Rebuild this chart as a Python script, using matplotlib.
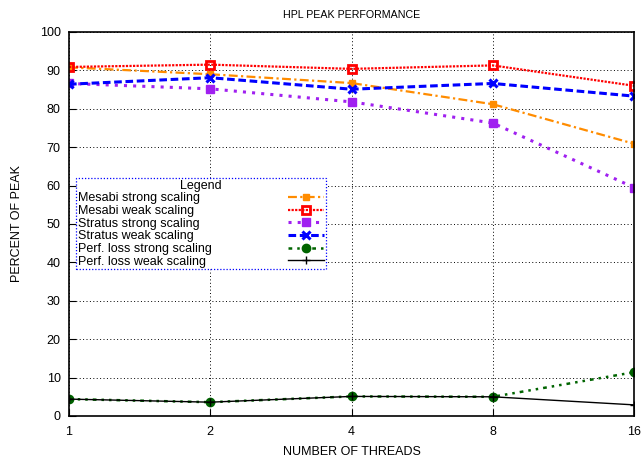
import matplotlib
matplotlib.use("Agg")
import matplotlib.pyplot as plt

threads = [1, 2, 4, 8, 16]
mesabi_strong = [90.8, 89.0, 86.7, 81.2, 70.9]
mesabi_weak = [90.9, 91.5, 90.4, 91.3, 86.0]
stratus_strong = [86.6, 85.2, 81.8, 76.3, 59.5]
stratus_weak = [86.4, 88.1, 85.1, 86.6, 83.3]
loss_strong = [4.4, 3.6, 5.1, 5.0, 11.4]
loss_weak = [4.4, 3.6, 5.1, 5.0, 2.9]

plt.rcParams['font.family'] = ['Liberation Sans', 'DejaVu Sans']
plt.rcParams['font.size'] = 9

fig = plt.figure(figsize=(6.42, 4.59), dpi=100)
ax = fig.add_axes([69 / 642, 43 / 459, 565 / 642, 384 / 459])

ax.plot(threads, mesabi_strong, color='darkorange', linestyle=(0, (4, 1.5, 1, 1.5)),
        lw=1.6, marker='s', ms=5, label='Mesabi strong scaling')
ax.plot(threads, mesabi_weak, color='red', linestyle=(0, (1, 0.6)), lw=1.6,
        marker='s', ms=6, mfc='none', mew=2, label='Mesabi weak scaling')
ax.plot(threads, stratus_strong, color='#a020f0', linestyle=(0, (1, 2)), lw=2.2,
        marker='s', ms=6, label='Stratus strong scaling')
ax.plot(threads, stratus_weak, color='blue', linestyle=(0, (2.5, 1.2)), lw=2.2,
        marker='x', ms=6, mew=2.2, label='Stratus weak scaling')
ax.plot(threads, loss_strong, color='darkgreen', linestyle=(0, (1.5, 2, 1, 2, 1, 2)), lw=1.8,
        marker='o', ms=6, label='Perf. loss strong scaling')
ax.plot(threads, loss_weak, color='black', linestyle='-', lw=1.0,
        marker='+', ms=6, label='Perf. loss weak scaling')

ax.set_xscale('log', base=2)
ax.set_xlim(1, 16)
ax.set_ylim(0, 100)
ax.set_xticks(threads)
ax.set_xticklabels([str(t) for t in threads])
ax.minorticks_off()
ax.set_yticks(range(0, 101, 10))
ax.tick_params(direction='in', length=5, width=0.8, labelsize=9)
ax.tick_params(axis='y', pad=6)
ax.tick_params(axis='x', pad=7)
ax.grid(True, color='black', linestyle=(0, (1, 2.5)), linewidth=0.7)
for s in ax.spines.values():
    s.set_linewidth(1.2)

ax.set_title('HPL PEAK PERFORMANCE', fontsize=7.7, pad=10)
ax.set_xlabel('NUMBER OF THREADS', fontsize=9, labelpad=6)
ax.set_ylabel('PERCENT OF PEAK', fontsize=9, labelpad=12)

leg = ax.legend(loc='upper left', bbox_to_anchor=(0.0124, 0.620), borderaxespad=0,
                markerfirst=False, title='Legend', title_fontsize=9, fontsize=9,
                handlelength=2.9, handletextpad=6.1, labelspacing=0.05,
                borderpad=0.15, fancybox=False, framealpha=1)
frame = leg.get_frame()
frame.set_edgecolor('blue')
frame.set_linestyle((0, (1, 1.5)))
frame.set_linewidth(0.9)

# labels left aligned, samples lined up on the right
fig.canvas.draw()
renderer = fig.canvas.get_renderer()
widths = [t.get_window_extent(renderer).width for t in leg.get_texts()]
rows = [r for col in leg._legend_handle_box.get_children() for r in col.get_children()]
for r, w in zip(rows, widths):
    r.sep += (max(widths) - w) * 72 / fig.dpi

fig.savefig('out.png', dpi=100)
